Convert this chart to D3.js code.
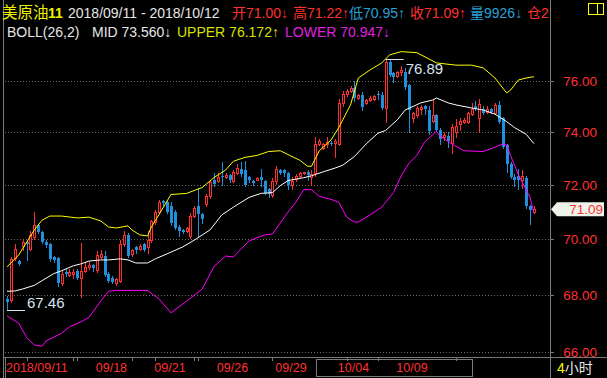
<!DOCTYPE html>
<html>
<head>
<meta charset="utf-8">
<script src="https://cdn.jsdelivr.net/npm/d3@7"></script>
<style>
  body { margin: 0; background: #000; }
  svg { display: block; font-family: "Liberation Sans", Arial, "Noto Sans CJK SC", sans-serif; }
</style>
</head>
<body>
<script>
// 4-hour candles, 2018/09/11 - 2018/10/12
const opens = [67.85,67.80,69.30,69.20,69.75,69.90,69.64,70.07,70.50,70.26,69.88,69.82,69.35,69.30,68.40,68.82,68.70,68.72,68.85,68.60,
  68.85,69.00,69.05,68.89,69.35,69.40,68.75,68.60,68.42,68.50,69.80,70.15,69.45,69.70,69.65,69.80,69.70,69.95,70.62,71.00,
  71.38,71.35,71.20,71.00,70.45,70.32,70.28,70.10,70.85,71.20,70.90,71.30,71.60,72.20,72.15,72.35,72.30,72.38,72.15,72.45,
  72.60,72.55,72.30,72.15,72.20,72.30,72.15,71.85,71.62,72.15,72.55,72.55,72.45,72.00,72.22,72.34,72.45,72.50,72.30,72.45,
  73.55,73.40,73.55,73.60,73.60,73.55,75.14,75.50,75.60,75.72,75.33,75.45,75.15,75.25,75.30,75.50,75.45,74.95,76.75,76.30,
  76.20,76.36,76.36,75.85,74.56,74.67,74.90,75.00,74.86,74.45,74.65,74.10,73.80,73.85,73.60,74.00,74.30,74.40,74.40,74.70,
  75.00,74.55,74.90,74.80,74.90,74.75,75.05,74.55,73.50,72.80,72.30,72.35,72.20,72.25,71.20,71.00];
const highs = [67.95,69.35,69.80,69.25,70.00,69.95,70.30,70.98,70.55,70.30,69.95,69.85,69.40,69.35,68.85,68.90,68.90,68.90,68.90,69.85,
  69.15,69.15,69.10,69.55,69.60,69.55,68.80,68.65,68.60,69.95,70.30,70.20,69.65,69.75,69.80,69.85,70.30,70.70,71.05,71.45,
  71.45,71.40,71.35,71.05,70.50,70.35,70.45,70.95,71.20,71.90,70.95,71.65,72.20,72.45,72.45,72.85,72.45,72.42,72.55,72.80,
  72.85,72.90,72.35,72.20,72.30,72.60,72.20,71.90,72.25,72.70,72.60,72.60,72.50,72.30,72.40,72.50,72.50,72.55,72.55,73.80,
  73.75,73.60,73.80,73.65,73.75,75.30,75.60,75.70,75.80,76.00,75.50,75.55,75.30,75.40,75.45,75.60,75.55,76.89,76.85,76.35,
  76.40,76.60,76.50,75.90,74.80,75.00,75.05,75.05,75.00,75.25,74.70,74.15,74.00,74.00,74.30,74.50,74.55,74.55,74.80,75.15,
  75.20,75.30,75.00,75.00,74.95,75.15,75.20,74.60,73.55,72.85,72.40,72.60,72.55,72.35,71.25,71.22];
const lows = [67.46,67.75,69.25,69.05,69.60,69.25,69.60,70.00,70.20,69.85,69.70,69.20,69.15,68.30,68.35,68.65,68.65,68.60,68.55,67.90,
  68.80,68.90,68.85,68.80,69.30,68.65,68.45,68.40,68.35,68.45,69.75,69.35,69.40,69.50,69.60,69.55,69.50,69.90,70.55,70.95,
  71.25,70.95,70.50,70.35,70.10,70.20,70.25,70.05,70.80,70.10,70.60,71.20,71.50,71.95,72.10,72.00,72.25,72.10,72.10,72.40,
  72.35,71.95,72.10,72.00,72.20,71.95,71.65,71.55,71.55,72.05,72.40,72.35,71.85,71.85,72.15,72.30,72.40,72.20,72.00,72.35,
  73.50,73.35,73.45,73.50,73.07,73.50,75.00,75.40,75.55,75.20,75.30,74.85,75.10,75.20,75.25,75.30,74.90,74.40,76.20,75.95,
  76.15,76.25,75.70,74.00,74.40,74.60,74.70,74.70,73.95,74.40,74.05,73.55,73.70,73.45,73.20,73.80,74.10,74.35,74.35,74.65,
  74.85,74.00,74.70,74.75,74.75,74.70,74.35,73.40,72.50,72.25,71.95,71.85,71.90,71.15,70.55,70.95];
const closes = [67.75,69.28,69.64,69.10,69.89,69.80,70.15,70.50,70.26,69.90,69.78,69.28,69.25,68.40,68.75,68.75,68.80,68.82,68.60,68.85,
  69.00,69.05,68.95,69.42,69.45,68.70,68.50,68.45,68.55,69.80,70.15,69.40,69.60,69.60,69.75,69.60,69.95,70.65,71.00,71.35,
  71.33,71.00,70.60,70.40,70.30,70.26,70.40,70.85,71.15,70.90,70.75,71.60,72.10,72.05,72.30,72.28,72.38,72.18,72.50,72.65,
  72.40,72.00,72.20,72.08,72.25,72.20,71.70,71.64,72.15,72.60,72.45,72.45,72.00,72.16,72.34,72.45,72.48,72.36,72.40,73.55,
  73.65,73.55,73.63,73.55,73.65,75.14,75.50,75.60,75.72,75.33,75.45,74.98,75.25,75.33,75.40,75.45,74.95,76.75,76.25,76.15,
  76.36,76.44,75.75,74.86,74.75,74.94,74.98,74.90,74.05,74.65,74.10,73.75,73.90,73.65,74.20,74.25,74.45,74.48,74.75,74.90,
  74.90,75.10,74.75,74.90,74.80,75.05,74.40,73.45,72.80,72.30,72.20,72.20,72.32,71.20,71.05,71.09];

// BOLL(26,2): [candle index, value]
const midLine = [[0,68.12],[2,68.13],[4,68.2],[7,68.33],[9,68.5],[12,68.75],[14,68.85],[17,69.03],[19,69.1],[21,69.2],
  [24,69.24],[26,69.24],[29,69.28],[31,69.24],[33,69.13],[36,69.13],[38,69.28],[41,69.46],[45,69.71],[48,69.96],
  [52,70.33],[55,70.88],[58,71.17],[62,71.53],[65,71.68],[68,71.71],[70,71.97],[72,72.16],[76,72.27],[78,72.34],
  [81,72.49],[84,72.63],[86,72.74],[89,73.07],[92,73.55],[95,73.96],[97,74.07],[100,74.48],[102,74.86],[106,75.14],
  [109,75.25],[110,75.33],[113,75.14],[115,75.06],[119,74.94],[122,74.86],[125,74.7],[128,74.41],[130,74.18],[133,73.92],[135,73.56]];
const upperLine = [[0,68.99],[3,69.42],[7,70.33],[9,70.69],[11,70.84],[14,70.84],[18,70.77],[21,70.8],[24,70.66],[26,70.44],
  [28,70.4],[31,70.48],[32,70.33],[34,70.15],[36,70.11],[37,70.44],[39,70.91],[42,71.64],[46,71.68],[50,71.9],
  [53,72.27],[56,72.56],[58,72.89],[61,73.04],[64,73.11],[67,73.26],[70,73.29],[73,73.07],[75,72.93],[77,72.7],
  [78,72.7],[80,73.29],[83,73.7],[85,74.18],[88,75.06],[90,76.12],[93,76.44],[96,76.72],[98,77.04],[101,77.17],
  [105,77.13],[110,76.72],[115,76.63],[119,76.63],[122,76.52],[125,76.12],[127,75.72],[128,75.53],[129,75.64],[131,76.04],[133,76.12],[135,76.172]];
const lowerLine = [[0,67.25],[3,67.0],[5,66.5],[7,66.24],[9,66.2],[10,66.38],[14,66.65],[16,66.87],[19,67.05],[21,67.2],
  [24,67.77],[26,68.12],[28,68.15],[32,68.15],[36,68.15],[39,67.84],[42,67.36],[46,67.77],[50,68.2],[53,69.0],
  [56,69.38],[58,69.35],[62,69.93],[66,70.15],[68,70.18],[72,70.99],[74,71.35],[76,71.82],[78,71.82],[80,71.57],
  [83,71.46],[85,71.35],[87,70.8],[89,70.62],[90,70.62],[93,70.88],[96,71.17],[97,71.35],[99,71.71],[101,72.34],
  [103,72.82],[105,73.11],[107,73.63],[110,74.03],[111,73.85],[114,73.55],[117,73.29],[122,73.26],[124,73.37],[127,73.55],
  [128,73.51],[129,73.11],[131,72.38],[134,71.53],[135,70.947]];

const priceTicks = [66, 68, 70, 72, 74, 76];
const dateLabels = ["2018/09/11", "09/18", "09/21", "09/26", "09/29", "10/04", "10/09"];
const dateIndex = [0, 23, 38, 54, 69, 85, 100];
const dayTicks = [5, 17, 18, 32, 38, 48, 49, 68, 87, 95, 115];

const width = 607, height = 378;
const RED = '#ff3030', BLUE = '#1e90dc', GRID = '#6a6a6a', FRAME = '#7a7a7a';

const svg = d3.select('body').append('svg')
  .attr('width', width)
  .attr('height', height)
  .style('background', '#000');

const x = d3.scaleLinear().domain([0, closes.length - 1]).range([7, 534]);
const y = d3.scaleLog().domain([66, 76]).range([352, 81]);

svg.append('clipPath').attr('id', 'plot')
  .append('rect').attr('x', 4).attr('y', 44).attr('width', 546).attr('height', 313);

// frame
svg.append('line').attr('x1', 550.5).attr('x2', 550.5).attr('y1', 0).attr('y2', height).attr('stroke', FRAME);
svg.append('line').attr('x1', 3.5).attr('x2', 3.5).attr('y1', 0).attr('y2', height).attr('stroke', FRAME);
svg.append('line').attr('x1', 3).attr('x2', width).attr('y1', 357.5).attr('y2', 357.5).attr('stroke', FRAME);

// grid + right axis
const yAxis = svg.append('g');
yAxis.selectAll('line.grid')
  .data(priceTicks)
  .join('line')
  .attr('class', 'grid')
  .attr('x1', 5).attr('x2', 550)
  .attr('y1', d => Math.round(y(d)) + 0.5).attr('y2', d => Math.round(y(d)) + 0.5)
  .attr('stroke', GRID).attr('stroke-dasharray', '1,2');
yAxis.selectAll('line.tick')
  .data(priceTicks)
  .join('line')
  .attr('class', 'tick')
  .attr('x1', 550).attr('x2', 554)
  .attr('y1', d => Math.round(y(d)) + 0.5).attr('y2', d => Math.round(y(d)) + 0.5)
  .attr('stroke', FRAME);
yAxis.selectAll('text')
  .data(priceTicks)
  .join('text')
  .attr('x', 597).attr('y', d => y(d) + 5)
  .attr('text-anchor', 'end')
  .attr('fill', RED).attr('font-size', 13.5)
  .text(d => d.toFixed(2));

// time axis
const xAxis = svg.append('g');
xAxis.selectAll('line')
  .data(dayTicks)
  .join('line')
  .attr('x1', d => Math.round(x(d)) + 0.5).attr('x2', d => Math.round(x(d)) + 0.5)
  .attr('y1', 358).attr('y2', 361)
  .attr('stroke', FRAME);
xAxis.selectAll('text')
  .data(dateLabels)
  .join('text')
  .attr('x', (d, i) => x(dateIndex[i]) - 1)
  .attr('y', 372)
  .attr('fill', RED).attr('font-size', 12.5)
  .text(d => d);
xAxis.append('rect')
  .attr('x', 316.5).attr('y', 359.5).attr('width', 156).attr('height', 17)
  .attr('fill', 'none').attr('stroke', FRAME);
xAxis.append('line').attr('x1', 5.5).attr('x2', 5.5).attr('y1', 358).attr('y2', height).attr('stroke', FRAME);
const period = svg.append('text').attr('x', 557).attr('y', 373).attr('font-size', 14);
period.append('tspan').attr('fill', '#ffff00').text('4');
period.append('tspan').attr('fill', '#e8e8e8').text('小时');

// candles
const plot = svg.append('g').attr('clip-path', 'url(#plot)');
const candle = plot.selectAll('g.candle')
  .data(d3.range(closes.length))
  .join('g')
  .attr('class', 'candle');

candle.each(function (i) {
  const g = d3.select(this);
  const o = opens[i], c = closes[i];
  const px = Math.round(x(i));
  const top = Math.round(y(Math.max(o, c)));
  const bot = Math.round(y(Math.min(o, c)));
  const yh = Math.round(y(highs[i]));
  const yl = Math.round(y(lows[i]));
  if (c >= o) {
    // hollow red
    if (yh < top) g.append('line').attr('x1', px + 0.5).attr('x2', px + 0.5).attr('y1', yh).attr('y2', top).attr('stroke', RED);
    if (yl > bot) g.append('line').attr('x1', px + 0.5).attr('x2', px + 0.5).attr('y1', bot + 1).attr('y2', yl + 1).attr('stroke', RED);
    if (bot - top >= 2) {
      g.append('rect').attr('x', px - 0.5).attr('y', top + 0.5).attr('width', 2).attr('height', bot - top)
        .attr('fill', '#000').attr('stroke', RED);
    } else {
      g.append('rect').attr('x', px - 1).attr('y', top).attr('width', 3).attr('height', Math.max(bot - top, 1) + 1).attr('fill', RED);
    }
  } else {
    g.append('line').attr('x1', px + 0.5).attr('x2', px + 0.5).attr('y1', yh).attr('y2', yl + 1).attr('stroke', BLUE);
    g.append('rect').attr('x', px - 1).attr('y', top).attr('width', 3).attr('height', Math.max(bot - top, 1)).attr('fill', BLUE);
  }
});

// bollinger bands
const line = d3.line().x(d => x(d[0])).y(d => y(d[1]));
[[upperLine, '#ffff00'], [midLine, '#ffffff'], [lowerLine, '#ff00ff']].forEach(([data, color]) => {
  plot.append('path').datum(data).attr('d', line).attr('fill', 'none').attr('stroke', color).attr('stroke-width', 1);
});

// high / low markers
const hiIdx = d3.maxIndex(highs), loIdx = d3.minIndex(lows);
const hy = Math.round(y(highs[hiIdx])) + 0.5, ly = Math.round(y(lows[loIdx])) + 0.5;
svg.append('line').attr('x1', x(hiIdx)).attr('x2', x(hiIdx) + 18).attr('y1', hy).attr('y2', hy).attr('stroke', '#d8e4f0');
svg.append('text').attr('x', x(hiIdx) + 20).attr('y', hy + 14).attr('fill', '#d8e4f0').attr('font-size', 15).text(highs[hiIdx].toFixed(2));
svg.append('line').attr('x1', x(loIdx)).attr('x2', x(loIdx) + 18).attr('y1', ly).attr('y2', ly).attr('stroke', '#d8e4f0');
svg.append('text').attr('x', x(loIdx) + 20).attr('y', ly - 3).attr('fill', '#d8e4f0').attr('font-size', 15).text(lows[loIdx].toFixed(2));

// last price tag
const last = closes[closes.length - 1];
const ty = y(last);
svg.append('path')
  .attr('d', `M551,${ty} L557,${ty - 7} L604,${ty - 7} L604,${ty + 7} L557,${ty + 7} Z`)
  .attr('fill', '#eef3ea');
svg.append('text').attr('x', 603).attr('y', ty + 5).attr('text-anchor', 'end')
  .attr('fill', RED).attr('font-size', 13.5).text(last.toFixed(2));

// header
const header = [
  { x: 2, y: 18, t: '美原油', c: '#f0f000', s: 15.5 },
  { x: 48, y: 18, t: '11', c: '#f0f000', w: 'bold' },
  { x: 68, y: 18, t: '2018/09/11 - 2018/10/12', c: '#e6e6e6' },
  { x: 232, y: 18, t: '开71.00↓', c: RED },
  { x: 293, y: 18, t: '高71.22↑', c: RED },
  { x: 349, y: 18, t: '低70.95↑', c: '#2aa0d8' },
  { x: 410, y: 18, t: '收71.09↑', c: RED },
  { x: 470, y: 18, t: '量9926↓', c: '#2aa0d8' },
  { x: 527, y: 18, t: '仓2', c: RED },
  { x: 7, y: 37, t: 'BOLL(26,2)', c: '#e6e6e6' },
  { x: 92, y: 37, t: 'MID 73.560↓', c: '#e6e6e6' },
  { x: 177, y: 37, t: 'UPPER 76.172↑', c: '#d8e000' },
  { x: 285, y: 37, t: 'LOWER 70.947↓', c: '#e020e0' }
];
svg.append('clipPath').attr('id', 'head')
  .append('rect').attr('x', 0).attr('y', 0).attr('width', 550).attr('height', 44);
svg.append('g').attr('clip-path', 'url(#head)')
  .selectAll('text')
  .data(header)
  .join('text')
  .attr('x', d => d.x).attr('y', d => d.y)
  .attr('fill', d => d.c)
  .attr('font-size', d => d.s || 14)
  .attr('font-weight', d => d.w || 'normal')
  .text(d => d.t);

// small icon top right
svg.append('rect').attr('x', 588.5).attr('y', 3.5).attr('width', 15).attr('height', 11).attr('fill', 'none').attr('stroke', '#ffff00');
svg.append('line').attr('x1', 597.5).attr('x2', 597.5).attr('y1', 3.5).attr('y2', 14.5).attr('stroke', '#ffff00');
</script>
</body>
</html>
